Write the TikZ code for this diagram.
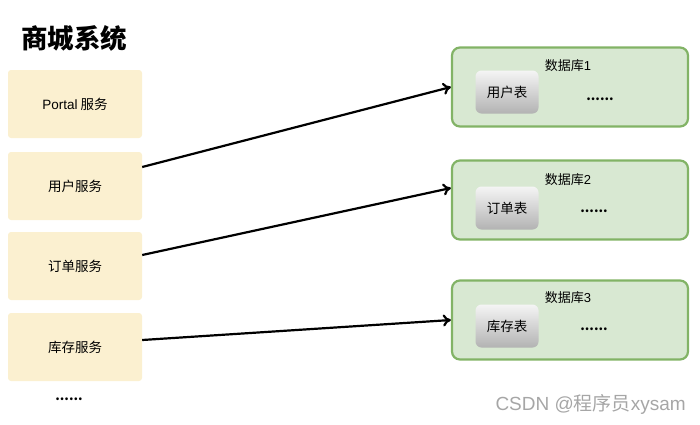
\documentclass[tikz,border=0pt]{standalone}
\usepackage{fontspec}
\setmainfont{Noto Sans CJK SC}
\newfontfamily\lat{Liberation Sans}
\usetikzlibrary{arrows.meta}
\definecolor{svcfill}{HTML}{FBF0D0}
\definecolor{dbfill}{HTML}{D8E8D2}
\definecolor{dbline}{HTML}{82B366}
\tikzset{
  svc/.style={fill=svcfill, draw=none, rounded corners=3pt, minimum width=134pt, minimum height=68pt, font=\fontsize{13.5}{15}\selectfont, inner sep=0pt},
  db/.style={fill=dbfill, draw=dbline, line width=2.2pt, rounded corners=8pt, minimum width=236pt, minimum height=79pt, inner sep=0pt},
  tbl/.style={top color=gray!8, bottom color=gray!60, draw=none, rounded corners=6pt, minimum width=63pt, minimum height=43pt, font=\fontsize{13.5}{15}\selectfont, inner sep=0pt},
  lbl/.style={font=\fontsize{13}{14}\selectfont, inner sep=0pt},
  dots/.style={font=\fontsize{13}{14}\selectfont\bfseries, inner sep=0pt},
  conn/.style={line width=2.2pt, -{To[length=8pt,width=12pt]}}
}
\begin{document}
\begin{tikzpicture}[x=1pt,y=-1pt]
\useasboundingbox (0,0) rectangle (700,424);
\node[font=\fontsize{26.5}{29}\selectfont\bfseries, anchor=west, inner sep=0pt] (title) at (21,38) {商城系统};
\node[svc] (portal) at (75,104) {{\lat Portal} 服务};
\node[svc] (user) at (75,186) {用户服务};
\node[svc] (order) at (75,266) {订单服务};
\node[svc] (stock) at (75,347) {库存服务};
\node[dots] (sdots) at (69,399) {......};

\node[db] (db1) at (570,87) {};
\node[lbl] (db1l) at (568,66) {数据库{\lat 1}};
\node[tbl] (t1) at (507,92) {用户表};
\node[dots] (d1) at (600,99) {......};

\node[db] (db2) at (570,200) {};
\node[lbl] (db2l) at (568,180) {数据库{\lat 2}};
\node[tbl] (t2) at (507,208) {订单表};
\node[dots] (d2) at (594,211) {......};

\node[db] (db3) at (570,320) {};
\node[lbl] (db3l) at (568,298) {数据库{\lat 3}};
\node[tbl] (t3) at (507,326) {库存表};
\node[dots] (d3) at (594,329) {......};

\draw[conn] (user.east) ++(0,-19) coordinate (u1) -- (db1.west);
\draw[conn] (order.east) ++(0,-11) coordinate (o1) -- ([yshift=12pt]db2.west);
\draw[conn] (stock.east) ++(0,-7) coordinate (s1) -- (db3.west);

\node[font=\fontsize{19}{21}\selectfont, text=gray!70, anchor=east, inner sep=0pt] (wm) at (686,404) {{\lat CSDN @}程序员{\lat xysam}};
\end{tikzpicture}
\end{document}
